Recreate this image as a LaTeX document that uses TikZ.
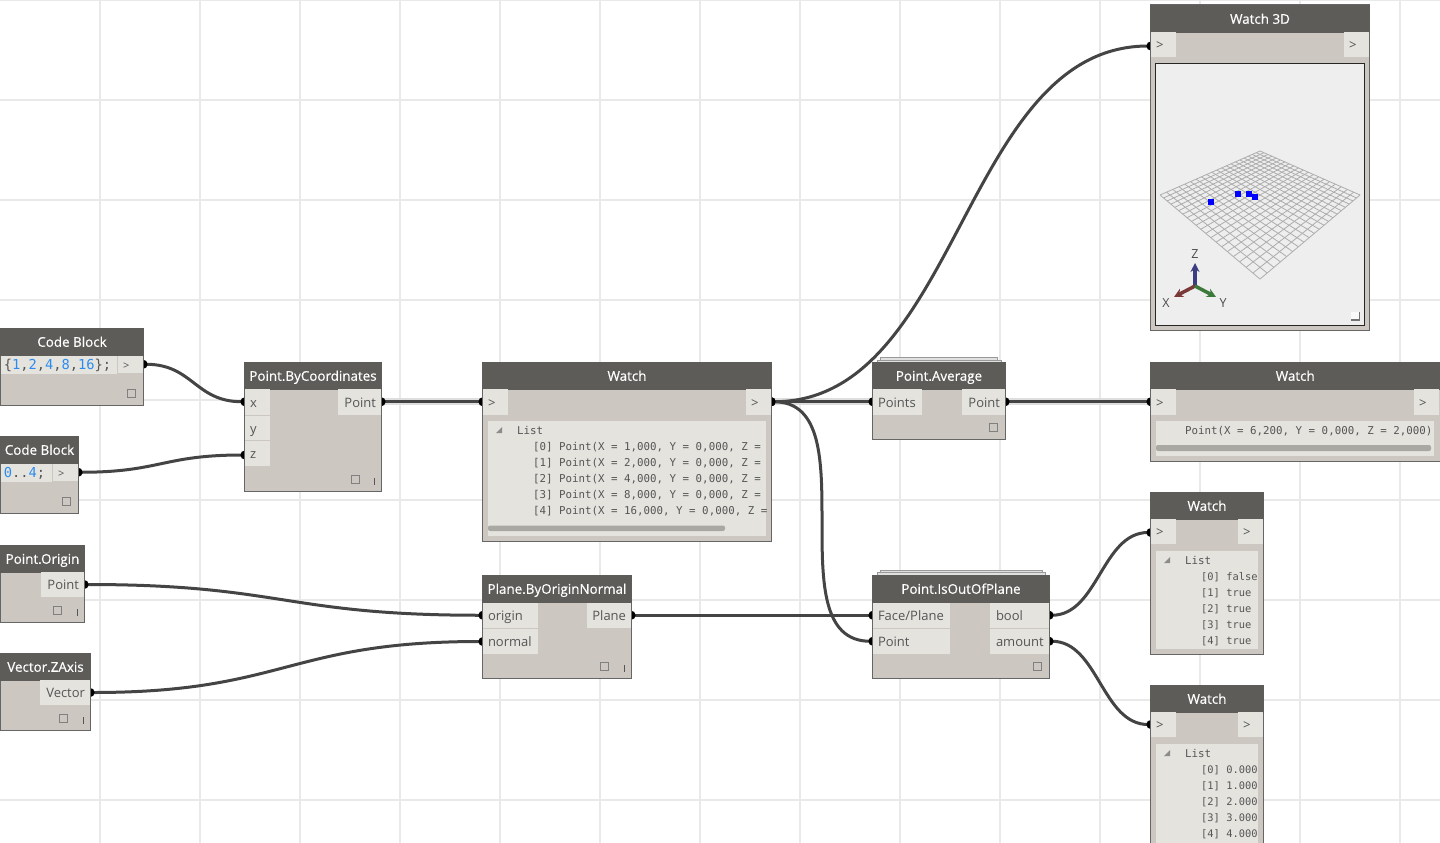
\documentclass[tikz,border=0pt]{standalone}
\usepackage{fontspec}
\setmainfont{Open Sans}
\newfontfamily\titlefont[FakeBold=0.45]{Open Sans}
\newfontfamily\monofont{DejaVu Sans Mono}
\usetikzlibrary{arrows.meta}
\definecolor{gridc}{HTML}{E9E9E9}
\definecolor{titlec}{HTML}{5E5C58}
\definecolor{bodyc}{HTML}{CCC8C1}
\definecolor{portc}{HTML}{E4E3DE}
\definecolor{edgec}{HTML}{666666}
\definecolor{wirec}{HTML}{444444}
\definecolor{textc}{HTML}{555555}
\definecolor{numc}{HTML}{2A8CF0}
\definecolor{scrollc}{HTML}{A9A8A3}
\definecolor{axisz}{HTML}{3C3C80}
\definecolor{axisx}{HTML}{7A3A3A}
\definecolor{axisy}{HTML}{3C7A3C}
\pgfdeclarelayer{gridlayer}
\pgfdeclarelayer{wirelayer}
\pgfsetlayers{gridlayer,wirelayer,main}
\tikzset{
  gridline/.style={draw=gridc,line width=2.4pt},
  bodybox/.style={draw=edgec,line width=1pt,fill=bodyc,anchor=north west,inner sep=0pt,outer sep=0pt},
  titlebar/.style={fill=titlec,draw=titlec,line width=.5pt,text=white,anchor=north west,inner sep=0pt,outer sep=0pt,text height=11pt,text depth=.5pt,font=\titlefont\fontsize{13.4}{15}\selectfont},
  portbase/.style={fill=portc,anchor=north west,inner ysep=0pt,inner xsep=5pt,outer sep=0pt,text=textc,text height=11.5pt,text depth=1pt,font=\fontsize{13}{15}\selectfont},
  wire/.style={draw=wirec,line width=3pt,{Circle[length=9pt,width=9pt,black]}-{Circle[length=9pt,width=9pt,black]},shorten <=-4.5pt,shorten >=-4.5pt},
  halowire/.style={wire,preaction={draw=black!13,line width=7pt,-,shorten <=0pt,shorten >=0pt}},
  panelbox/.style={fill=portc,draw=none},
  listtext/.style={anchor=north west,inner sep=0pt,text=textc,align=left,font=\monofont\fontsize{10.8}{16}\selectfont},
  shorttext/.style={listtext,font=\monofont\fontsize{10.4}{16}\selectfont},
  codetext/.style={fill=portc,anchor=north west,inner ysep=0pt,inner xsep=3pt,outer sep=0pt,text=textc,text height=11pt,text depth=1pt,font=\monofont\fontsize{13.7}{15}\selectfont},
  scrollbar/.style={fill=scrollc,rounded corners=2pt},
  freeze/.style={draw=black!50,fill=none,line width=.8pt},
  lacing/.style={draw=textc,line width=1pt},
  sheet/.style={draw=black!40,fill=black!12,line width=.8pt},
  axlabel/.style={inner sep=0pt,text=black!70,font=\fontsize{12.5}{13}\selectfont},
  tri/.style={fill=black!45,draw=none}
}
\newcommand{\dbox}[6]{%
  \node[bodybox,minimum width={(#4-#2)*1pt},minimum height={(#5-#3)*1pt}] (#1) at (#2,#3) {};
  \node[titlebar,minimum width={(#4-#2)*1pt},minimum height=27pt] (#1t) at (#2,#3) {#6};}
\newcommand{\portL}[6]{\node[portbase,text width={(#4-#2-10)*1pt},align=left,minimum height={(#5-#3)*1pt}] (#1) at (#2,#3) {#6};}
\newcommand{\portR}[6]{\node[portbase,text width={(#4-#2-10)*1pt},align=right,minimum height={(#5-#3)*1pt}] (#1) at (#2,#3) {#6};}
\newcommand{\num}[1]{\textcolor{numc}{#1}}
\begin{document}
\begin{tikzpicture}[x=1pt,y=-1pt]
\clip (0,0) rectangle (1440,843);
\useasboundingbox (0,0) rectangle (1440,843);
\begin{pgfonlayer}{gridlayer}
  \fill[white] (0,0) rectangle (1440,843);
  \foreach \gx in {100,200,...,1400} \draw[gridline] (\gx,0) -- (\gx,843);
  \foreach \gy in {0,100,...,800} \draw[gridline] (0,\gy) -- (1440,\gy);
\end{pgfonlayer}

% Code blocks
\dbox{cba}{0.5}{328}{143.5}{405}{Code Block}
\node[codetext,minimum width=116pt,minimum height=18pt,text width=110pt,align=left] (cbatext) at (1,355.5) {\{\num{1},\num{2},\num{4},\num{8},\num{16}\};};
\portL{cbaout}{118}{355.5}{143}{373}{{\fontsize{11}{12}\selectfont >}}
\dbox{cbb}{0.5}{436}{78.5}{513}{Code Block}
\node[codetext,minimum width=51pt,minimum height=18pt,text width=45pt,align=left] (cbbtext) at (1,463.5) {\num{0}..\num{4};};
\portL{cbbout}{53}{463.5}{78}{481}{{\fontsize{11}{12}\selectfont >}}
\draw[freeze] (127.5,389.5) rectangle (135.5,397.5);
\draw[freeze] (62.5,497.5) rectangle (70.5,505.5);

% Point.ByCoordinates
\dbox{pbc}{244.5}{362}{381.5}{491}{Point.ByCoordinates}
\portL{pbcx}{245}{389}{270}{414.5}{x}
\portL{pbcy}{245}{415.5}{270}{440}{y}
\portL{pbcz}{245}{441}{270}{466}{z}
\portR{pbcout}{338}{389}{381}{414.5}{Point}
\draw[freeze] (351,475.5) rectangle (359,483.5);
\draw[lacing] (374.5,478) -- (374.5,485);

% Watch (points)
\dbox{wa}{482.5}{362}{771.5}{541}{Watch}
\portL{wain}{483}{389}{508}{414.5}{>}
\portL{waout}{746}{389}{771}{414.5}{>}
\fill[panelbox] (488,421) rectangle (766,536);
\fill[tri] (496,433) -- (502,433) -- (502,427) -- cycle;
\begin{scope}
  \clip (488,421) rectangle (766,536);
  \node[listtext] (walist) at (517,426) {List};
  \node[listtext] (walines) at (533,442) {{[0]} Point(X = 1,000, Y = 0,000, Z =\\
  {[1]} Point(X = 2,000, Y = 0,000, Z =\\
  {[2]} Point(X = 4,000, Y = 0,000, Z =\\
  {[3]} Point(X = 8,000, Y = 0,000, Z =\\
  {[4]} Point(X = 16,000, Y = 0,000, Z =};
\end{scope}
\fill[scrollbar] (488,525.5) rectangle (725,531);

% Point.Average
\draw[sheet] (880,357.5) rectangle (997,364);
\draw[sheet] (877,360) rectangle (1001,364);
\dbox{pav}{872.5}{362}{1005.5}{439}{Point.Average}
\portL{pavin}{873}{389}{922}{414.5}{Points}
\portR{pavout}{962}{389}{1005}{414.5}{Point}
\draw[freeze] (989.5,423.5) rectangle (997.5,431.5);

% Watch 3D
\dbox{wtd}{1150.5}{5}{1369.5}{330}{Watch 3D}
\portL{wtdin}{1151}{32}{1176}{57}{>}
\portL{wtdout}{1344}{32}{1369}{57}{>}
\draw[draw=black!85,fill=black!6.5,line width=1pt] (1155.5,63.5) rectangle (1364.5,325.5);
\foreach \i in {0,...,20}{
  \pgfmathsetmacro{\uu}{\i/20}
  \pgfmathsetmacro{\ax}{(718.18*\uu+1260)/(0.4545*\uu+1)}
  \pgfmathsetmacro{\ay}{(4.636*\uu+279)/(0.4545*\uu+1)}
  \pgfmathsetmacro{\bx}{(718.18*\uu+427.27+1260)/(0.4545*\uu+0.4545+1)}
  \pgfmathsetmacro{\by}{(4.636*\uu+4.636+279)/(0.4545*\uu+0.4545+1)}
  \draw[black!32,line width=.8pt] (\ax,\ay) -- (\bx,\by);
  \pgfmathsetmacro{\cx}{(427.27*\uu+1260)/(0.4545*\uu+1)}
  \pgfmathsetmacro{\cy}{(4.636*\uu+279)/(0.4545*\uu+1)}
  \pgfmathsetmacro{\dx}{(718.18+427.27*\uu+1260)/(0.4545+0.4545*\uu+1)}
  \pgfmathsetmacro{\dy}{(4.636+4.636*\uu+279)/(0.4545+0.4545*\uu+1)}
  \draw[black!32,line width=.8pt] (\cx,\cy) -- (\dx,\dy);
}
\fill[blue] (1208,199) rectangle (1214,205);
\fill[blue] (1235,191) rectangle (1241,197);
\fill[blue] (1246,191) rectangle (1252,197);
\fill[blue] (1252,194) rectangle (1258,200);
\draw[line width=3.5pt,draw=axisz,-{Stealth[length=9pt,width=9pt]}] (1195,286) -- (1195,263);
\draw[line width=3.5pt,draw=axisx,-{Stealth[length=9pt,width=9pt]}] (1195,286) -- (1174,297);
\draw[line width=3.5pt,draw=axisy,-{Stealth[length=9pt,width=9pt]}] (1195,286) -- (1216,297);
\node[axlabel] (axz) at (1195,254) {Z};
\node[axlabel] (axx) at (1166,303) {X};
\node[axlabel] (axy) at (1223,303) {Y};
\fill[black!2] (1351,312) rectangle (1359,320);
\draw[black!55,line width=1.2pt] (1351,320) -- (1359.5,320) -- (1359.5,312);

% Watch (average)
\dbox{wb}{1150.5}{362}{1440}{461}{Watch}
\portL{wbin}{1151}{389}{1176}{414.5}{>}
\portL{wbout}{1414}{389}{1439}{414.5}{>}
\fill[panelbox] (1156,421) rectangle (1434,456);
\begin{scope}
  \clip (1156,421) rectangle (1434,456);
  \node[listtext] (wbline) at (1185,426) {Point(X = 6,200, Y = 0,000, Z = 2,000)};
\end{scope}
\fill[scrollbar] (1156,445) rectangle (1431,451);

% Watch (bool)
\dbox{wc}{1150.5}{492}{1263.5}{654}{Watch}
\portL{wcin}{1151}{519}{1176}{544}{>}
\portL{wcout}{1238}{519}{1263}{544}{>}
\fill[panelbox] (1156,551) rectangle (1258,649);
\fill[tri] (1164,563) -- (1170,563) -- (1170,557) -- cycle;
\node[listtext] (wclist) at (1185,556) {List};
\node[shorttext] (wclines) at (1201,572) {{[0]} false\\ {[1]} true\\ {[2]} true\\ {[3]} true\\ {[4]} true};

% Watch (amount)
\dbox{wd}{1150.5}{685}{1263.5}{850}{Watch}
\portL{wdin}{1151}{712}{1176}{737}{>}
\portL{wdout}{1238}{712}{1263}{737}{>}
\fill[panelbox] (1156,744) rectangle (1258,850);
\fill[tri] (1164,756) -- (1170,756) -- (1170,750) -- cycle;
\node[listtext] (wdlist) at (1185,749) {List};
\node[shorttext] (wdlines) at (1201,765) {{[0]} 0.000\\ {[1]} 1.000\\ {[2]} 2.000\\ {[3]} 3.000\\ {[4]} 4.000};

% Plane.ByOriginNormal
\dbox{pl}{482.5}{575}{631.5}{678}{Plane.ByOriginNormal}
\portL{plo}{483}{602.5}{538}{628}{origin}
\portL{pln}{483}{629}{538}{654}{normal}
\portR{plout}{587}{602.5}{631}{628}{Plane}
\draw[freeze] (600.5,662.5) rectangle (608.5,670.5);
\draw[lacing] (624.5,665) -- (624.5,672);

% Point.IsOutOfPlane
\draw[sheet] (880,570) rectangle (1042,577);
\draw[sheet] (877,572.5) rectangle (1045,577);
\dbox{pio}{872.5}{575}{1049.5}{678}{Point.IsOutOfPlane}
\portL{piof}{873}{602.5}{950}{628}{Face/Plane}
\portL{piop}{873}{629}{950}{653.5}{Point}
\portL{piob}{990}{602.5}{1049}{628}{\hspace*{1pt}bool}
\portL{pioa}{990}{629}{1049}{653.5}{\hspace*{1pt}amount}
\draw[freeze] (1033.5,662.5) rectangle (1041.5,670.5);

% Point.Origin
\dbox{po}{0.5}{545}{84.5}{622}{Point.Origin}
\portR{poout}{41}{572}{84}{597}{Point}
\draw[freeze] (53.5,606.5) rectangle (61.5,614.5);
\draw[lacing] (77.5,609) -- (77.5,616);

% Vector.ZAxis
\dbox{vz}{0.5}{653}{90.5}{730}{Vector.ZAxis}
\portR{vzout}{40}{680}{90}{705}{Vector}
\draw[freeze] (59.5,714.5) rectangle (67.5,722.5);
\draw[lacing] (83.5,717) -- (83.5,724);

% Connectors
\begin{pgfonlayer}{wirelayer}
  \draw[wire] (cbaout.east) .. controls +(50,0) and +(-50,0) .. (pbcx.west);
  \draw[wire] (cbbout.east) .. controls +(82,0) and +(-82,0) .. ([yshift=-1.5pt]pbcz.west);
  \draw[wire] (poout.east) .. controls +(198,0) and +(-198,0) .. (plo.west);
  \draw[wire] (vzout.east) .. controls +(195,0) and +(-195,0) .. (pln.west);
  \draw[wire] (plout.east) -- (piof.west);
  \draw[halowire] (pbcout.east) -- (wain.west);
  \draw[halowire] (waout.east) -- (pavin.west);
  \draw[halowire] (pavout.east) -- (wbin.west);
  \draw[wire] (waout.east) .. controls +(189,0) and +(-189,0) .. ([yshift=-1.5pt]wtdin.west);
  \draw[wire] (waout.east) .. controls +(99,0) and +(-99,0) .. (piop.west);
  \draw[wire] (piob.east) .. controls +(49,0) and +(-49,0) .. ([yshift=-1pt]wcin.west);
  \draw[wire] (pioa.east) .. controls +(49,0) and +(-49,0) .. (wdin.west);
\end{pgfonlayer}
\end{tikzpicture}
\end{document}
